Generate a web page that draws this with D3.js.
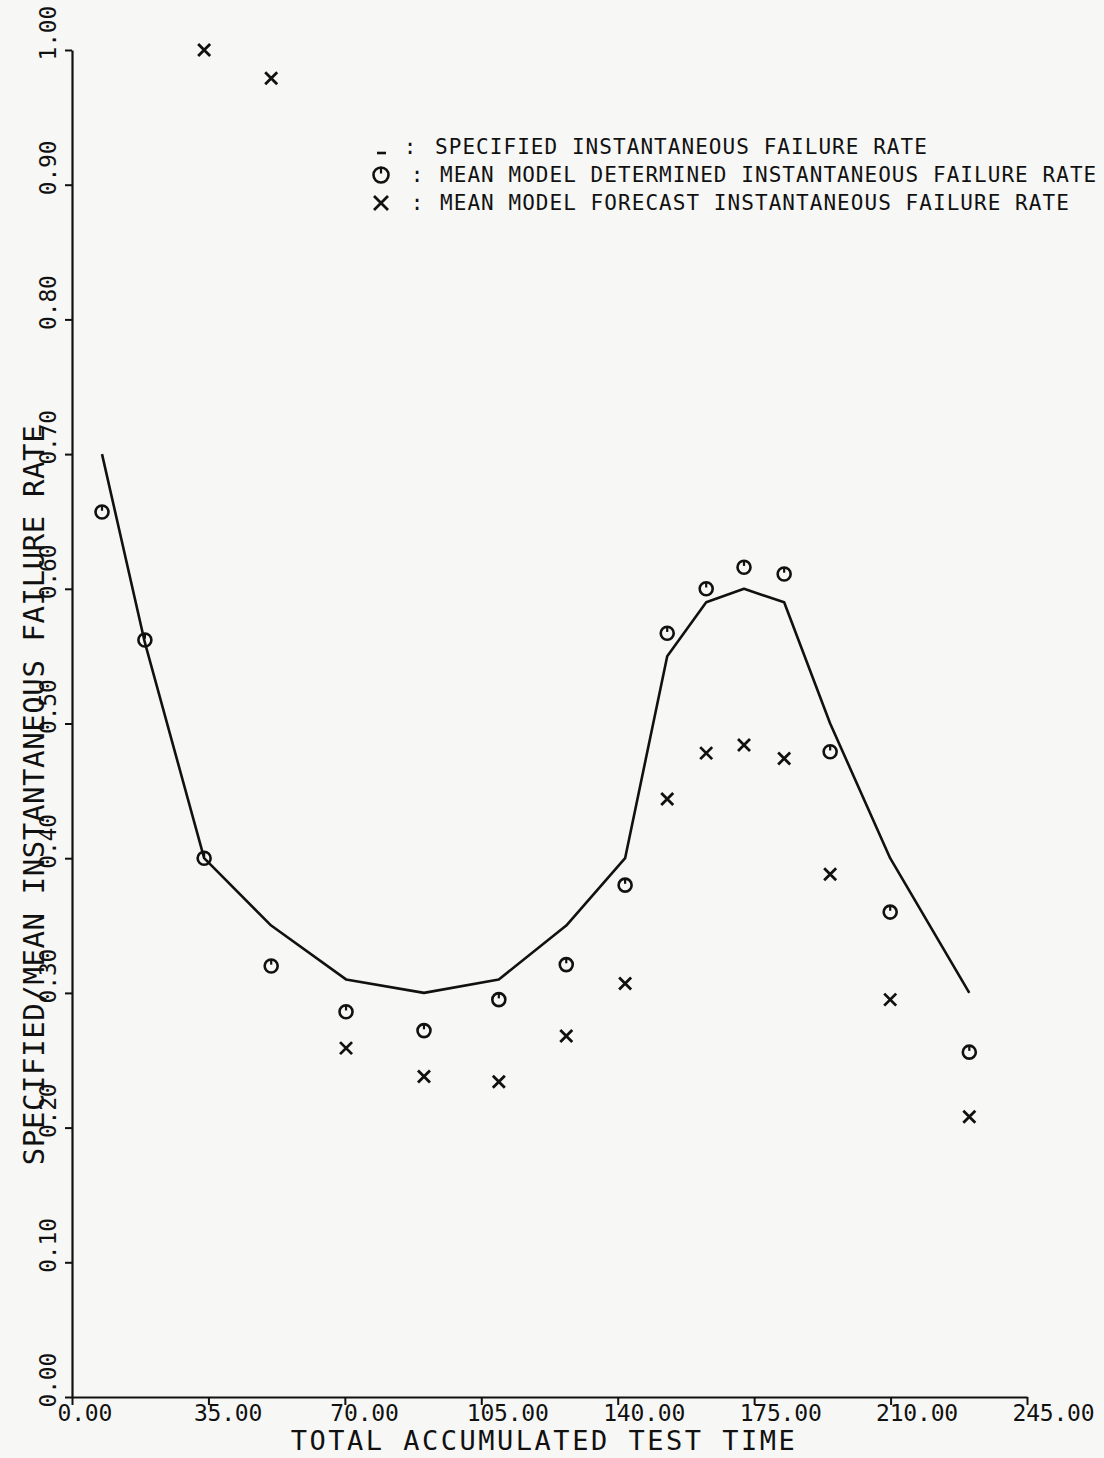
<!DOCTYPE html>
<html>
<head>
<meta charset="utf-8">
<script src="https://cdn.jsdelivr.net/npm/d3@7"></script>
<style>
  html, body { margin: 0; padding: 0; background: #f7f7f5; }
  svg { display: block; }
  text { font-family: "DejaVu Sans Mono", "Liberation Mono", monospace; fill: #111; }
</style>
</head>
<body>
<svg id="chart" width="1104" height="1458"></svg>
<script>
// ---- data ----
const testTimes   = [7.7, 18.7, 33.9, 51.1, 70.3, 90.3, 109.5, 126.8, 141.9, 152.7, 162.7, 172.4, 182.7, 194.5, 209.9, 230.2];
const specified   = [0.70, 0.56, 0.40, 0.35, 0.31, 0.30, 0.31, 0.35, 0.40, 0.55, 0.59, 0.60, 0.59, 0.50, 0.40, 0.30];
const determined  = [0.657, 0.562, 0.40, 0.32, 0.286, 0.272, 0.295, 0.321, 0.38, 0.567, 0.60, 0.616, 0.611, 0.479, 0.36, 0.256];
const forecast    = [null, null, 1.00, 0.979, 0.259, 0.238, 0.234, 0.268, 0.307, 0.444, 0.478, 0.484, 0.474, 0.388, 0.295, 0.208];
const xTicks = [0, 35, 70, 105, 140, 175, 210, 245];
const yTicks = [0, 0.1, 0.2, 0.3, 0.4, 0.5, 0.6, 0.7, 0.8, 0.9, 1.0];
const xTitle = "TOTAL ACCUMULATED TEST TIME";
const yTitle = "SPECIFIED/MEAN INSTANTANEOUS FAILURE RATE";
const legendLabels = [
  "SPECIFIED INSTANTANEOUS FAILURE RATE",
  "MEAN MODEL DETERMINED INSTANTANEOUS FAILURE RATE",
  "MEAN MODEL FORECAST INSTANTANEOUS FAILURE RATE"
];

const svg = d3.select("#chart");
const x = d3.scaleLinear().domain([0, 245]).range([72, 1027]);
const y = d3.scaleLinear().domain([0, 1]).range([1397, 50]);
const ink = "#111";

// background
svg.append("rect").attr("width", 1104).attr("height", 1458).attr("fill", "#f7f7f5");

// x axis
const gx = svg.append("g").attr("transform", `translate(0,${y(0)})`)
  .call(d3.axisBottom(x).tickValues(xTicks).tickSize(8).tickSizeOuter(0).tickFormat(d3.format(".2f")));
gx.select(".domain").attr("stroke", ink).attr("stroke-width", 2.2);
gx.selectAll(".tick line").attr("stroke", ink).attr("stroke-width", 2);
gx.selectAll(".tick text")
  .attr("text-anchor", "start").attr("x", -15).attr("y", 24).attr("dy", 0)
  .style("font-size", "23px").style("letter-spacing", "-0.2px")
  .style("font-family", "'DejaVu Sans Mono', monospace").attr("fill", ink);

// y axis
const gy = svg.append("g").attr("transform", `translate(${x(0)},0)`)
  .call(d3.axisLeft(y).tickValues(yTicks).tickSize(7).tickSizeOuter(0).tickFormat(d3.format(".2f")));
gy.select(".domain").attr("stroke", ink).attr("stroke-width", 2.2);
gy.selectAll(".tick line").attr("stroke", ink).attr("stroke-width", 2);
gy.selectAll(".tick text")
  .attr("transform", "rotate(-90)")
  .attr("text-anchor", "start").attr("x", -10).attr("y", -16).attr("dy", 0)
  .style("font-size", "23px").style("letter-spacing", "-0.2px")
  .style("font-family", "'DejaVu Sans Mono', monospace").attr("fill", ink);

// axis titles
svg.append("text").attr("x", 544).attr("y", 1450).attr("text-anchor", "middle")
  .style("font-size", "27px").style("letter-spacing", "2.5px").text(xTitle);
svg.append("text").attr("transform", "translate(44,795) rotate(-90)").attr("text-anchor", "middle")
  .style("font-size", "29px").style("letter-spacing", "0.6px").text(yTitle);

// specified line
const pts = testTimes.map((t, i) => ({ t, s: specified[i], d: determined[i], f: forecast[i] }));
svg.append("path").datum(pts)
  .attr("fill", "none").attr("stroke", ink).attr("stroke-width", 2.6).attr("stroke-linejoin", "round")
  .attr("d", d3.line().x(d => x(d.t)).y(d => y(d.s)));

// circle markers
function circleMark(g, cx, cy, r) {
  g.append("circle").attr("cx", cx).attr("cy", cy).attr("r", r)
    .attr("fill", "none").attr("stroke", ink).attr("stroke-width", 2.6);
  g.append("line").attr("x1", cx).attr("x2", cx).attr("y1", cy - r).attr("y2", cy - r * 0.2)
    .attr("stroke", ink).attr("stroke-width", 2.2);
}
function crossMark(g, cx, cy, h) {
  g.append("path").attr("d", `M${cx - h},${cy - h}L${cx + h},${cy + h}M${cx - h},${cy + h}L${cx + h},${cy - h}`)
    .attr("stroke", ink).attr("stroke-width", 2.8).attr("fill", "none");
}
const gm = svg.append("g");
pts.forEach(p => circleMark(gm, x(p.t), y(p.d), 6.5));
pts.filter(p => p.f !== null).forEach(p => crossMark(gm, x(p.t), y(p.f), 6));

// legend
const lg = svg.append("g");
const rows = [154, 182, 210];
lg.append("line").attr("x1", 377).attr("x2", 386).attr("y1", rows[0] - 1).attr("y2", rows[0] - 1)
  .attr("stroke", ink).attr("stroke-width", 2.6);
circleMark(lg, 381, rows[1] - 7, 7.5);
crossMark(lg, 381, rows[2] - 7, 7);
const sepX = [410, 417, 417];
const txtX = [435, 440, 440];
legendLabels.forEach((lab, i) => {
  lg.append("text").attr("x", sepX[i]).attr("y", rows[i]).attr("text-anchor", "middle")
    .style("font-size", "21px").text(":");
  lg.append("text").attr("x", txtX[i]).attr("y", rows[i])
    .style("font-size", "21px").style("letter-spacing", "1.05px").text(lab);
});
</script>
</body>
</html>
